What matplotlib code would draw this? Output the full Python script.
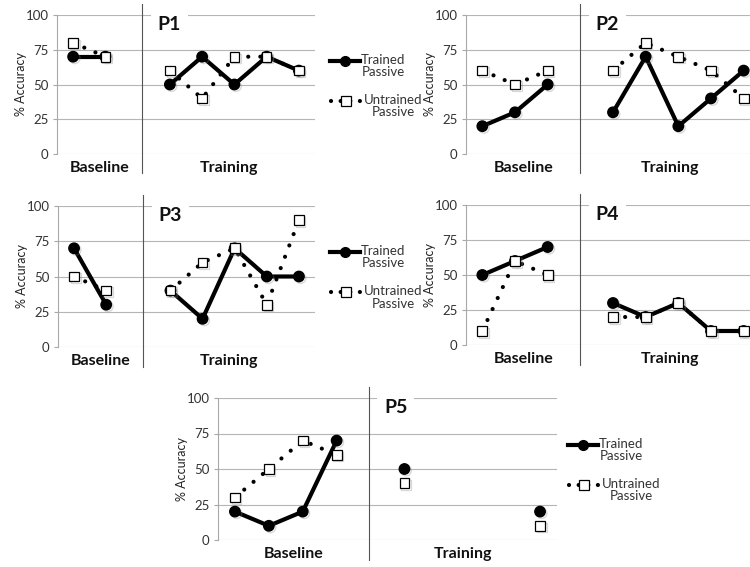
import numpy as np
import matplotlib
matplotlib.use("Agg")
from matplotlib import pyplot as plt
from matplotlib.lines import Line2D
import matplotlib.patheffects as pe
from matplotlib.transforms import blended_transform_factory

plt.rcParams["font.family"] = ["Lato", "DejaVu Sans"]

W, H = 750, 567

y_ticks = [0, 25, 50, 75, 100]
group_labels = ["Baseline", "Training"]
legend_labels = ["Trained\nPassive", "Untrained\nPassive"]

# P1
p1_base_trained = [70, 70]
p1_base_untrained = [80, 70]
p1_train_trained = [50, 70, 50, 70, 60]
p1_train_untrained = [60, 40, 70, 70, 60]

# P2
p2_base_trained = [20, 30, 50]
p2_base_untrained = [60, 50, 60]
p2_train_trained = [30, 70, 20, 40, 60]
p2_train_untrained = [60, 80, 70, 60, 40]

# P3
p3_base_trained = [70, 30]
p3_base_untrained = [50, 40]
p3_train_trained = [40, 20, 70, 50, 50]
p3_train_untrained = [40, 60, 70, 30, 90]

# P4
p4_base_trained = [50, 60, 70]
p4_base_untrained = [10, 60, 50]
p4_train_trained = [30, 20, 30, 10, 10]
p4_train_untrained = [20, 20, 30, 10, 10]

# P5 (training sessions 2-4 missing)
p5_base_trained = [20, 10, 20, 70]
p5_base_untrained = [30, 50, 70, 60]
p5_train_trained = [50, None, None, None, 20]
p5_train_untrained = [40, None, None, None, 10]

# layout in pixels: axes box (left, top, right, bottom), divider x in data units, legend anchor
panels = [
    ("P1", p1_base_trained, p1_base_untrained, p1_train_trained, p1_train_untrained,
     (57, 15, 315, 154), 2.15, (330, 61)),
    ("P2", p2_base_trained, p2_base_untrained, p2_train_trained, p2_train_untrained,
     (466, 15, 760, 154), 3.0, None),
    ("P3", p3_base_trained, p3_base_untrained, p3_train_trained, p3_train_untrained,
     (58, 206, 315, 347), 2.15, (330, 252)),
    ("P4", p4_base_trained, p4_base_untrained, p4_train_trained, p4_train_untrained,
     (466, 205, 760, 345), 3.0, None),
    ("P5", p5_base_trained, p5_base_untrained, p5_train_trained, p5_train_untrained,
     (218, 398, 557, 540), 3.95, (568, 445)),
]

shadow = [pe.SimpleLineShadow(offset=(1.2, -1.2), shadow_color="gray", alpha=0.3), pe.Normal()]
DOT_LW = 3.0
dotted = (0, (0.01, 2.9))


def to_arr(vals):
    return np.array([np.nan if v is None else v for v in vals], dtype=float)


def draw_pair(ax, xs, trained, untrained):
    t = to_arr(trained)
    u = to_arr(untrained)
    ax.plot(xs, t, color="black", lw=3, zorder=3, solid_capstyle="round")
    ax.plot(xs, u, color="black", lw=DOT_LW, ls=dotted, dash_capstyle="round", zorder=3)
    ax.plot(xs, t, ls="none", marker="o", ms=7.5, mfc="black", mec="black",
            zorder=4, path_effects=shadow)
    ax.plot(xs, u, ls="none", marker="s", ms=7, mfc="white", mec="black", mew=0.9,
            zorder=5, path_effects=shadow)


def fx(px):
    return px / W


def fy(py):
    return 1 - py / H


def draw_legend(fig, x0, y0):
    fig.add_artist(Line2D([fx(x0), fx(x0 + 30)], [fy(y0), fy(y0)], color="black", lw=3,
                          transform=fig.transFigure))
    fig.add_artist(Line2D([fx(x0 + 15)], [fy(y0)], marker="o", ms=7, color="black",
                          transform=fig.transFigure))
    fig.text(fx(x0 + 31), fy(y0 - 7), legend_labels[0], ha="left", va="top", fontsize=9.5,
             color="#333333", multialignment="center", linespacing=1.05)
    y1 = y0 + 40
    fig.add_artist(Line2D([fx(x0 + 1), fx(x0 + 32)], [fy(y1), fy(y1)], color="black",
                          lw=DOT_LW, ls=(0, (0.01, 2.3)), dash_capstyle="round",
                          transform=fig.transFigure))
    fig.add_artist(Line2D([fx(x0 + 16)], [fy(y1)], marker="s", ms=7, mfc="white", mec="black",
                          mew=0.9, transform=fig.transFigure))
    fig.text(fx(x0 + 34), fy(y1 - 7), legend_labels[1], ha="left", va="top", fontsize=9.5,
             color="#333333", multialignment="center", linespacing=1.05)


fig = plt.figure(figsize=(7.5, 5.67), dpi=100)

for name, b_t, b_u, t_t, t_u, box, divider, leg in panels:
    left, top, right, bottom = box
    ax = fig.add_axes([fx(left), fy(bottom), (right - left) / W, (bottom - top) / H])

    n_base = len(b_t)
    n_total = n_base + 1 + len(t_t)
    base_x = np.arange(n_base)
    train_x = np.arange(n_base + 1, n_total)

    draw_pair(ax, base_x, b_t, b_u)
    draw_pair(ax, train_x, t_t, t_u)

    ax.set_xlim(-0.5, n_total - 0.5)
    ax.set_ylim(0, 100)
    ax.set_yticks(y_ticks)
    ax.set_xticks([])
    ax.grid(axis="y", color="#b5b5b5", lw=0.8)
    ax.set_axisbelow(True)
    for side in ["top", "right", "bottom"]:
        ax.spines[side].set_visible(False)
    ax.spines["left"].set_color("#a8a8a8")
    ax.spines["left"].set_linewidth(0.8)
    ax.tick_params(axis="y", length=3, width=0.8, color="#a8a8a8", labelsize=9.5,
                   labelcolor="#333333", pad=3)
    ax.text(-36 / (right - left), 0.5, "% Accuracy", transform=ax.transAxes, rotation=90,
            ha="center", va="center", fontsize=9, color="#222222")

    trans = blended_transform_factory(ax.transData, ax.transAxes)
    ax.plot([divider, divider], [-0.14, 1.08], transform=trans, color="#555555", lw=0.8,
            clip_on=False, zorder=2)

    x0, x1 = ax.get_xlim()
    ax.text((x0 + divider) / 2, -0.1, group_labels[0], transform=trans, ha="center",
            va="center", fontsize=11.5, fontweight="bold", color="#111111")
    ax.text((divider + x1) / 2, -0.1, group_labels[1], transform=trans, ha="center",
            va="center", fontsize=11.5, fontweight="bold", color="#111111")

    ax.annotate(name, xy=(divider, 1.0), xycoords=trans, xytext=(11, -7),
                textcoords="offset points", ha="left", va="center", fontsize=14,
                fontweight="bold", color="#111111", zorder=6,
                bbox=dict(boxstyle="square,pad=0.35", fc="white", ec="none"))

    if leg is not None:
        draw_legend(fig, *leg)

fig.savefig("out.png", dpi=100)
